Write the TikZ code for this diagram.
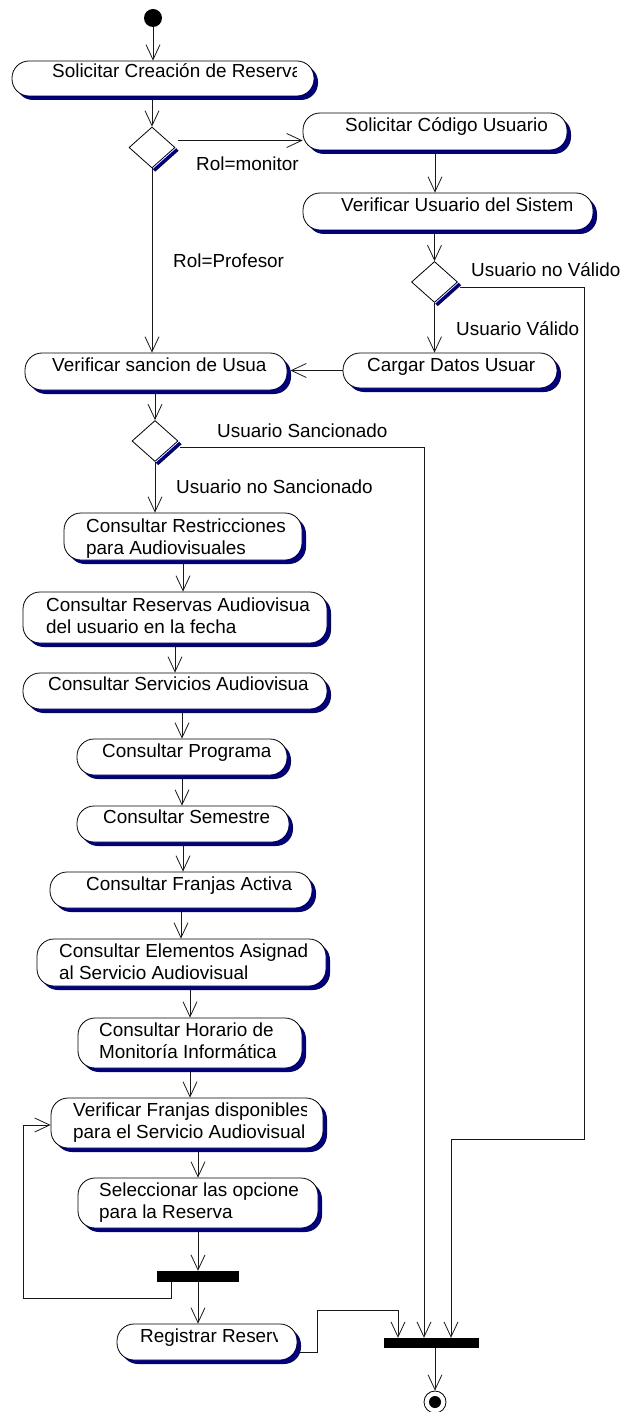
\documentclass[tikz,border=0pt]{standalone}
\usepackage{fontspec}
\setmainfont{Liberation Sans}
\usetikzlibrary{arrows.meta,shapes.geometric,shadows,calc}
\definecolor{shc}{RGB}{0,0,128}
\definecolor{lnc}{RGB}{25,25,25}
\newcommand\fsz{\fontsize{18.9}{22}\selectfont}
% name, text x, baseline, clip x, text
\newcommand\cliptext[5]{\begin{scope}\clip ({#2-6},{#3-22}) rectangle (#4,{#3+12});\node[txt] (#1) at (#2,#3) {#5};\end{scope}}
% name, text x, baseline, clip x, line1, line2
\newcommand\cliptwo[6]{\begin{scope}\clip ({#2-6},{#3-22}) rectangle (#4,{#3+34});\node[txt] (#1) at (#2,#3) {#5};\node[txt] (#1b) at (#2,{#3+22}) {#6};\end{scope}}
\pgfdeclarelayer{bg}
\pgfsetlayers{bg,main}
\begin{document}
\begin{tikzpicture}[x=1pt,y=-1pt,
  act/.style={draw=black, line width=0.8pt, fill=white, rounded corners=17pt, inner sep=0pt,
    drop shadow={shadow xshift=4pt, shadow yshift=-4pt, opacity=1, fill=shc}},
  txt/.style={anchor=base west, inner sep=0pt, font=\fsz},
  dec/.style={diamond, draw=black, line width=0.8pt, fill=white, inner sep=0pt, minimum width=46pt, minimum height=41pt},
  arr/.style={draw=lnc, line width=0.8pt, -{Straight Barb[length=15pt,width=14pt,line width=0.8pt]}},
  dsh/.style={draw=shc, line width=3.5pt},
  bar/.style={fill=black, inner sep=0pt},
]
\useasboundingbox (0,0) rectangle (622,1412);

% start
\node[circle, fill=black, inner sep=0pt, minimum size=18pt] (init) at (153,18) {};

% activity boxes
\node[act, minimum width=302pt, minimum height=35pt] (b1) at (163,78.5) {};
\node[act, minimum width=264pt, minimum height=37pt] (b2) at (435,131.5) {};
\node[act, minimum width=290pt, minimum height=37pt] (b3) at (448,211.5) {};
\node[act, minimum width=214pt, minimum height=35pt] (b4) at (450,370.5) {};
\node[act, minimum width=262pt, minimum height=37pt] (b5) at (156,371.5) {};
\node[act, minimum width=238pt, minimum height=47pt] (b6) at (183,536.5) {};
\node[act, minimum width=304pt, minimum height=51pt] (b7) at (175,617.5) {};
\node[act, minimum width=304pt, minimum height=36pt] (b8) at (175,691) {};
\node[act, minimum width=210pt, minimum height=36pt] (b9) at (182,757) {};
\node[act, minimum width=212pt, minimum height=36pt] (b10) at (183,824) {};
\node[act, minimum width=262pt, minimum height=36pt] (b11) at (181,890) {};
\node[act, minimum width=289pt, minimum height=47pt] (b12) at (181.5,962.5) {};
\node[act, minimum width=224pt, minimum height=50pt] (b13) at (190,1043) {};
\node[act, minimum width=272pt, minimum height=50pt] (b14) at (187,1123) {};
\node[act, minimum width=240pt, minimum height=50pt] (b15) at (198,1203) {};
\node[act, minimum width=180pt, minimum height=36pt] (b16) at (207,1342) {};

% texts
\cliptext{t1}{52}{78}{296}{Solicitar Creación de Reserva}
\cliptext{t2}{345}{132}{566}{Solicitar Código Usuario}
\cliptext{t3}{341}{212}{590}{Verificar Usuario del Sistem}
\cliptext{t4}{367}{371}{555}{Cargar Datos Usuar}
\cliptext{t5}{52}{371}{285}{Verificar sancion de Usua}
\cliptwo{t6}{86}{532}{284}{Consultar Restricciones}{para Audiovisuales}
\cliptwo{t7}{46}{611}{309}{Consultar Reservas Audiovisua}{del usuario en la fecha}
\cliptext{t8}{48}{690}{308}{Consultar Servicios Audiovisua}
\cliptext{t9}{102}{757}{270}{Consultar Programa}
\cliptext{t10}{103}{823}{287}{Consultar Semestre}
\cliptext{t11}{86}{890}{293}{Consultar Franjas Activa}
\cliptwo{t12}{59}{957}{309}{Consultar Elementos Asignad}{al Servicio Audiovisual}
\cliptwo{t13}{99}{1036}{300}{Consultar Horario de}{Monitoría Informática}
\cliptwo{t14}{73}{1116}{306}{Verificar Franjas disponibles}{para el Servicio Audiovisual}
\cliptwo{t15}{99}{1196}{300}{Seleccionar las opcione}{para la Reserva}
\cliptext{t16}{140}{1342}{277}{Registrar Reserv}

% decisions
\node[dec] (d1) at (152,147.5) {};
\node[dec] (d2) at (434.5,282) {};
\node[dec] (d3) at (155,441) {};
\draw[dsh] ($(d1.east)+(2,2)$) -- ($(d1.south)+(2,2)$);
\draw[dsh] ($(d2.east)+(2,2)$) -- ($(d2.south)+(2,2)$);
\draw[dsh] ($(d3.east)+(2,2)$) -- ($(d3.south)+(2,2)$);

% bars and final
\node[bar, minimum width=82pt, minimum height=11pt] (fb) at (198,1276.5) {};
\node[bar, minimum width=95pt, minimum height=10pt] (jb) at (431.5,1343) {};
\node[circle, draw=black, line width=0.8pt, fill=white, minimum size=22pt, inner sep=0pt] (fin) at (435,1402) {};
\node[circle, fill=black, minimum size=12pt, inner sep=0pt] (finc) at (fin) {};

% guard labels
\node[txt] (l1) at (196,171) {Rol=monitor};
\node[txt] (l2) at (173,268) {Rol=Profesor};
\node[txt] (l3) at (471,277) {Usuario no Válido};
\node[txt] (l4) at (456,335) {Usuario Válido};
\node[txt] (l5) at (217,437) {Usuario Sancionado};
\node[txt] (l6) at (176,493) {Usuario no Sancionado};

% connectors
\begin{pgfonlayer}{bg}
\draw[arr] (init.south) -- (init.south |- b1.north);
\draw[arr] (d1.north |- b1.south) -- (d1.north);
\coordinate (d1r) at ($(d1.east)+(3,-7)$);
\draw[arr] (d1r) -- (d1r -| b2.west);
\draw[arr] (b2.south) -- (b2.south |- b3.north);
\draw[arr] (d2.north |- b3.south) -- (d2.north);
\draw[arr] (d2.south) -- (d2.south |- b4.north);
\coordinate (d2r) at ($(d2.east)+(2,5)$);
\coordinate (nv1) at (584,1139);
\draw[arr] (d2r) -| (nv1) -| ($(jb.north)+(19.5,0)$);
\draw[arr] (b4.west) -- ($(b4.west -| b5.east)+(3,0)$);
\draw[arr] (d1.south) -- (d1.south |- b5.north);
\draw[arr] (d3.north |- b5.south) -- (d3.north);
\coordinate (d3r) at ($(d3.east)+(2,6)$);
\draw[arr] (d3r) -| ($(jb.north)+(-7.5,0)$);
\draw[arr] (d3.south) -- (d3.south |- b6.north);
\draw[arr] (b6.south) -- (b6.south |- b7.north);
\draw[arr] (b7.south) -- (b7.south |- b8.north);
\draw[arr] (b9.north |- b8.south) -- (b9.north);
\draw[arr] (b9.south) -- (b9.south |- b10.north);
\draw[arr] (b10.south) -- (b10.south |- b11.north);
\draw[arr] (b11.south) -- (b11.south |- b12.north);
\draw[arr] (b13.north |- b12.south) -- (b13.north);
\draw[arr] (b13.south) -- (b13.south |- b14.north);
\draw[arr] (b15.north |- b14.south) -- (b15.north);
\draw[arr] (b15.south) -- (fb.north);
\draw[arr] (fb.south) -- (fb.south |- b16.north);
\coordinate (fbl) at ($(fb.south)+(-27,0)$);
\coordinate (lp) at (23,1125);
\draw[arr] (fbl) -- ++(0,16) -| (lp) -- (lp -| b14.west);
\coordinate (b16r) at ($(b16.east)+(1,10)$);
\draw[arr] (b16r) -- ++(19,0) |- ($(jb.north)+(-33.5,-27)$) -- ($(jb.north)+(-33.5,0)$);
\draw[arr] (fin.north |- jb.south) -- (fin.north);
\end{pgfonlayer}
\end{tikzpicture}
\end{document}
